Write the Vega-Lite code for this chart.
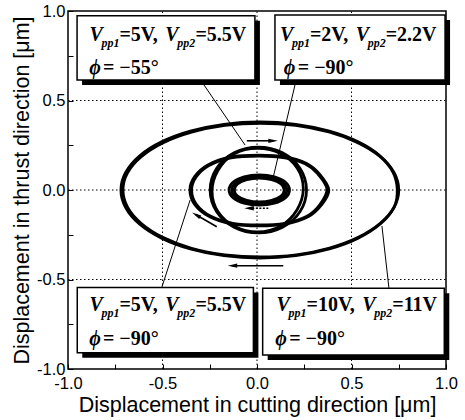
{
  "$schema": "https://vega.github.io/schema/vega-lite/v6.json",
  "width": 378,
  "height": 358,
  "autosize": "none",
  "padding": {"left": 68, "top": 11, "right": 19, "bottom": 51},
  "background": "white",
  "config": {
    "view": {"stroke": "black", "strokeWidth": 1.5},
    "axis": {
      "labelFont": "Liberation Sans", "labelFontSize": 16.5, "labelColor": "black",
      "titleFont": "Liberation Sans", "titleFontSize": 21.5, "titleFontWeight": "normal", "titleColor": "black",
      "tickColor": "black", "tickWidth": 1, "tickSize": -5,
      "domain": false, "grid": false, "labelFlush": false, "labelOverlap": false
    }
  },
  "datasets": {
    "curves": [
      {"trace": "L1", "i": 0, "x": 0.750, "y": 0},
      {"trace": "L1", "i": 1, "x": 0.725, "y": 0.098},
      {"trace": "L1", "i": 2, "x": 0.652, "y": 0.190},
      {"trace": "L1", "i": 3, "x": 0.535, "y": 0.269},
      {"trace": "L1", "i": 4, "x": 0.383, "y": 0.329},
      {"trace": "L1", "i": 5, "x": 0.205, "y": 0.367},
      {"trace": "L1", "i": 6, "x": 0.015, "y": 0.380},
      {"trace": "L1", "i": 7, "x": -0.175, "y": 0.367},
      {"trace": "L1", "i": 8, "x": -0.353, "y": 0.329},
      {"trace": "L1", "i": 9, "x": -0.505, "y": 0.269},
      {"trace": "L1", "i": 10, "x": -0.622, "y": 0.190},
      {"trace": "L1", "i": 11, "x": -0.695, "y": 0.098},
      {"trace": "L1", "i": 12, "x": -0.720, "y": 0},
      {"trace": "L1", "i": 13, "x": -0.695, "y": -0.098},
      {"trace": "L1", "i": 14, "x": -0.622, "y": -0.190},
      {"trace": "L1", "i": 15, "x": -0.505, "y": -0.269},
      {"trace": "L1", "i": 16, "x": -0.353, "y": -0.329},
      {"trace": "L1", "i": 17, "x": -0.175, "y": -0.367},
      {"trace": "L1", "i": 18, "x": 0.015, "y": -0.380},
      {"trace": "L1", "i": 19, "x": 0.205, "y": -0.367},
      {"trace": "L1", "i": 20, "x": 0.383, "y": -0.329},
      {"trace": "L1", "i": 21, "x": 0.535, "y": -0.269},
      {"trace": "L1", "i": 22, "x": 0.652, "y": -0.190},
      {"trace": "L1", "i": 23, "x": 0.725, "y": -0.098},
      {"trace": "L2", "i": 0, "x": 0.742, "y": 0.004},
      {"trace": "L2", "i": 1, "x": 0.719, "y": 0.100},
      {"trace": "L2", "i": 2, "x": 0.647, "y": 0.190},
      {"trace": "L2", "i": 3, "x": 0.530, "y": 0.266},
      {"trace": "L2", "i": 4, "x": 0.380, "y": 0.324},
      {"trace": "L2", "i": 5, "x": 0.204, "y": 0.361},
      {"trace": "L2", "i": 6, "x": 0.018, "y": 0.373},
      {"trace": "L2", "i": 7, "x": -0.170, "y": 0.361},
      {"trace": "L2", "i": 8, "x": -0.346, "y": 0.323},
      {"trace": "L2", "i": 9, "x": -0.496, "y": 0.264},
      {"trace": "L2", "i": 10, "x": -0.612, "y": 0.186},
      {"trace": "L2", "i": 11, "x": -0.685, "y": 0.096},
      {"trace": "L2", "i": 12, "x": -0.709, "y": 0},
      {"trace": "L2", "i": 13, "x": -0.685, "y": -0.096},
      {"trace": "L2", "i": 14, "x": -0.612, "y": -0.187},
      {"trace": "L2", "i": 15, "x": -0.496, "y": -0.266},
      {"trace": "L2", "i": 16, "x": -0.346, "y": -0.326},
      {"trace": "L2", "i": 17, "x": -0.170, "y": -0.362},
      {"trace": "L2", "i": 18, "x": 0.018, "y": -0.374},
      {"trace": "L2", "i": 19, "x": 0.208, "y": -0.362},
      {"trace": "L2", "i": 20, "x": 0.384, "y": -0.324},
      {"trace": "L2", "i": 21, "x": 0.536, "y": -0.264},
      {"trace": "L2", "i": 22, "x": 0.652, "y": -0.186},
      {"trace": "L2", "i": 23, "x": 0.726, "y": -0.094},
      {"trace": "R1", "i": 0, "x": 0.262, "y": 0},
      {"trace": "R1", "i": 1, "x": 0.228, "y": 0.120},
      {"trace": "R1", "i": 2, "x": 0.135, "y": 0.208},
      {"trace": "R1", "i": 3, "x": 0.007, "y": 0.240},
      {"trace": "R1", "i": 4, "x": -0.121, "y": 0.208},
      {"trace": "R1", "i": 5, "x": -0.214, "y": 0.120},
      {"trace": "R1", "i": 6, "x": -0.248, "y": 0},
      {"trace": "R1", "i": 7, "x": -0.214, "y": -0.120},
      {"trace": "R1", "i": 8, "x": -0.121, "y": -0.208},
      {"trace": "R1", "i": 9, "x": 0.007, "y": -0.240},
      {"trace": "R1", "i": 10, "x": 0.135, "y": -0.208},
      {"trace": "R1", "i": 11, "x": 0.228, "y": -0.120},
      {"trace": "R2", "i": 0, "x": 0.245, "y": 0.008},
      {"trace": "R2", "i": 1, "x": 0.213, "y": 0.122},
      {"trace": "R2", "i": 2, "x": 0.124, "y": 0.204},
      {"trace": "R2", "i": 3, "x": 0.002, "y": 0.232},
      {"trace": "R2", "i": 4, "x": -0.120, "y": 0.202},
      {"trace": "R2", "i": 5, "x": -0.206, "y": 0.110},
      {"trace": "R2", "i": 6, "x": -0.238, "y": -0.008},
      {"trace": "R2", "i": 7, "x": -0.206, "y": -0.122},
      {"trace": "R2", "i": 8, "x": -0.118, "y": -0.204},
      {"trace": "R2", "i": 9, "x": 0.004, "y": -0.234},
      {"trace": "R2", "i": 10, "x": 0.124, "y": -0.202},
      {"trace": "R2", "i": 11, "x": 0.212, "y": -0.110},
      {"trace": "H1", "i": 0, "x": 0.380, "y": 0},
      {"trace": "H1", "i": 1, "x": 0.330, "y": 0.090},
      {"trace": "H1", "i": 2, "x": 0.260, "y": 0.150},
      {"trace": "H1", "i": 3, "x": 0.150, "y": 0.185},
      {"trace": "H1", "i": 4, "x": 0.010, "y": 0.195},
      {"trace": "H1", "i": 5, "x": -0.140, "y": 0.185},
      {"trace": "H1", "i": 6, "x": -0.260, "y": 0.140},
      {"trace": "H1", "i": 7, "x": -0.330, "y": 0.075},
      {"trace": "H1", "i": 8, "x": -0.355, "y": 0},
      {"trace": "H1", "i": 9, "x": -0.330, "y": -0.080},
      {"trace": "H1", "i": 10, "x": -0.250, "y": -0.150},
      {"trace": "H1", "i": 11, "x": -0.130, "y": -0.190},
      {"trace": "H1", "i": 12, "x": 0.010, "y": -0.200},
      {"trace": "H1", "i": 13, "x": 0.150, "y": -0.190},
      {"trace": "H1", "i": 14, "x": 0.270, "y": -0.150},
      {"trace": "H1", "i": 15, "x": 0.340, "y": -0.085},
      {"trace": "H2", "i": 0, "x": 0.370, "y": 0.005},
      {"trace": "H2", "i": 1, "x": 0.322, "y": 0.090},
      {"trace": "H2", "i": 2, "x": 0.254, "y": 0.146},
      {"trace": "H2", "i": 3, "x": 0.147, "y": 0.180},
      {"trace": "H2", "i": 4, "x": 0.010, "y": 0.190},
      {"trace": "H2", "i": 5, "x": -0.137, "y": 0.180},
      {"trace": "H2", "i": 6, "x": -0.254, "y": 0.137},
      {"trace": "H2", "i": 7, "x": -0.322, "y": 0.073},
      {"trace": "H2", "i": 8, "x": -0.346, "y": 0},
      {"trace": "H2", "i": 9, "x": -0.322, "y": -0.078},
      {"trace": "H2", "i": 10, "x": -0.244, "y": -0.147},
      {"trace": "H2", "i": 11, "x": -0.127, "y": -0.186},
      {"trace": "H2", "i": 12, "x": 0.010, "y": -0.195},
      {"trace": "H2", "i": 13, "x": 0.147, "y": -0.186},
      {"trace": "H2", "i": 14, "x": 0.264, "y": -0.147},
      {"trace": "H2", "i": 15, "x": 0.332, "y": -0.083},
      {"trace": "S1", "i": 0, "x": 0.172, "y": 0},
      {"trace": "S1", "i": 1, "x": 0.151, "y": 0.043},
      {"trace": "S1", "i": 2, "x": 0.092, "y": 0.074},
      {"trace": "S1", "i": 3, "x": 0.012, "y": 0.085},
      {"trace": "S1", "i": 4, "x": -0.068, "y": 0.074},
      {"trace": "S1", "i": 5, "x": -0.127, "y": 0.043},
      {"trace": "S1", "i": 6, "x": -0.148, "y": 0},
      {"trace": "S1", "i": 7, "x": -0.127, "y": -0.043},
      {"trace": "S1", "i": 8, "x": -0.068, "y": -0.074},
      {"trace": "S1", "i": 9, "x": 0.012, "y": -0.085},
      {"trace": "S1", "i": 10, "x": 0.092, "y": -0.074},
      {"trace": "S1", "i": 11, "x": 0.151, "y": -0.043},
      {"trace": "S2", "i": 0, "x": 0.158, "y": 0},
      {"trace": "S2", "i": 1, "x": 0.139, "y": 0.038},
      {"trace": "S2", "i": 2, "x": 0.085, "y": 0.066},
      {"trace": "S2", "i": 3, "x": 0.012, "y": 0.076},
      {"trace": "S2", "i": 4, "x": -0.061, "y": 0.066},
      {"trace": "S2", "i": 5, "x": -0.115, "y": 0.038},
      {"trace": "S2", "i": 6, "x": -0.134, "y": 0},
      {"trace": "S2", "i": 7, "x": -0.115, "y": -0.038},
      {"trace": "S2", "i": 8, "x": -0.061, "y": -0.066},
      {"trace": "S2", "i": 9, "x": 0.012, "y": -0.076},
      {"trace": "S2", "i": 10, "x": 0.085, "y": -0.066},
      {"trace": "S2", "i": 11, "x": 0.139, "y": -0.038},
      {"trace": "S3", "i": 0, "x": 0.144, "y": 0},
      {"trace": "S3", "i": 1, "x": 0.127, "y": 0.034},
      {"trace": "S3", "i": 2, "x": 0.078, "y": 0.058},
      {"trace": "S3", "i": 3, "x": 0.012, "y": 0.067},
      {"trace": "S3", "i": 4, "x": -0.054, "y": 0.058},
      {"trace": "S3", "i": 5, "x": -0.103, "y": 0.034},
      {"trace": "S3", "i": 6, "x": -0.120, "y": 0},
      {"trace": "S3", "i": 7, "x": -0.103, "y": -0.034},
      {"trace": "S3", "i": 8, "x": -0.054, "y": -0.058},
      {"trace": "S3", "i": 9, "x": 0.012, "y": -0.067},
      {"trace": "S3", "i": 10, "x": 0.078, "y": -0.058},
      {"trace": "S3", "i": 11, "x": 0.127, "y": -0.034}
    ],
    "gridx": [
      {"x": -0.5, "y": -1, "y2": 1},
      {"x": 0, "y": -1, "y2": 1},
      {"x": 0.5, "y": -1, "y2": 1}
    ],
    "gridy": [
      {"y": -0.5, "x": -1, "x2": 1},
      {"y": 0, "x": -1, "x2": 1},
      {"y": 0.5, "x": -1, "x2": 1}
    ],
    "leaders": [
      {"x": -0.291, "y": 0.603, "x2": -0.063, "y2": 0.251},
      {"x": 0.206, "y": 0.609, "x2": 0.085, "y2": 0.067},
      {"x": -0.503, "y": -0.542, "x2": -0.354, "y2": -0.056},
      {"x": 0.698, "y": -0.547, "x2": 0.661, "y2": -0.201}
    ],
    "shafts": [
      {"x": -0.054, "y": 0.275, "x2": 0.085, "y2": 0.275},
      {"x": 0.139, "y": -0.423, "x2": -0.130, "y2": -0.423},
      {"x": -0.213, "y": -0.205, "x2": -0.325, "y2": -0.137}
    ],
    "dshafts": [
      {"x": 0.06, "y": -0.102, "x2": -0.04, "y2": -0.102}
    ],
    "headsRight": [{"x": 0.085, "y": 0.275}],
    "headsLeft": [{"x": -0.130, "y": -0.423}, {"x": -0.042, "y": -0.102}],
    "headsUpLeft": [{"x": -0.322, "y": -0.139}],
    "boxes": [
      {"x": -0.952, "x2": -0.011, "y": 0.973, "y2": 0.615},
      {"x": 0.095, "x2": 0.995, "y": 0.978, "y2": 0.615},
      {"x": -0.951, "x2": -0.019, "y": -0.544, "y2": -0.909},
      {"x": 0.030, "x2": 0.991, "y": -0.549, "y2": -0.922}
    ],
    "vlabels": [
      {"x": -0.886, "y": 0.832, "text": "V"},
      {"x": -0.485, "y": 0.832, "text": "V"},
      {"x": -0.888, "y": 0.648, "text": "ϕ"},
      {"x": 0.122, "y": 0.832, "text": "V"},
      {"x": 0.523, "y": 0.832, "text": "V"},
      {"x": 0.142, "y": 0.648, "text": "ϕ"},
      {"x": -0.886, "y": -0.676, "text": "V"},
      {"x": -0.485, "y": -0.676, "text": "V"},
      {"x": -0.888, "y": -0.866, "text": "ϕ"},
      {"x": 0.103, "y": -0.676, "text": "V"},
      {"x": 0.557, "y": -0.676, "text": "V"},
      {"x": 0.097, "y": -0.866, "text": "ϕ"}
    ],
    "sublabels": [
      {"x": -0.823, "y": 0.799, "text": "pp1"},
      {"x": -0.422, "y": 0.799, "text": "pp2"},
      {"x": 0.185, "y": 0.799, "text": "pp1"},
      {"x": 0.586, "y": 0.799, "text": "pp2"},
      {"x": -0.823, "y": -0.709, "text": "pp1"},
      {"x": -0.422, "y": -0.709, "text": "pp2"},
      {"x": 0.167, "y": -0.709, "text": "pp1"},
      {"x": 0.621, "y": -0.709, "text": "pp2"}
    ],
    "plainlabels": [
      {"x": -0.728, "y": 0.832, "text": "=5V,"},
      {"x": -0.326, "y": 0.832, "text": "=5.5V"},
      {"x": -0.815, "y": 0.648, "text": "= −55°"},
      {"x": 0.280, "y": 0.832, "text": "=2V,"},
      {"x": 0.681, "y": 0.832, "text": "=2.2V"},
      {"x": 0.216, "y": 0.648, "text": "= −90°"},
      {"x": -0.728, "y": -0.676, "text": "=5V,"},
      {"x": -0.326, "y": -0.676, "text": "=5.5V"},
      {"x": -0.815, "y": -0.866, "text": "= −90°"},
      {"x": 0.262, "y": -0.676, "text": "=10V,"},
      {"x": 0.716, "y": -0.676, "text": "=11V"},
      {"x": 0.170, "y": -0.866, "text": "= −90°"}
    ]
  },
  "encoding": {
    "x": {
      "field": "x", "type": "quantitative",
      "scale": {"domain": [-1, 1], "nice": false, "zero": false},
      "axis": {
        "title": "Displacement in cutting direction [μm]",
        "values": [-1, -0.75, -0.5, -0.25, 0, 0.25, 0.5, 0.75, 1],
        "labelExpr": "datum.value % 0.5 == 0 ? replace(format(datum.value, '.1f'), '−', '-') : ''",
        "labelPadding": 11,
        "titlePadding": 3
      }
    },
    "y": {
      "field": "y", "type": "quantitative",
      "scale": {"domain": [-1, 1], "nice": false, "zero": false},
      "axis": {
        "title": "Displacement in thrust direction [μm]",
        "values": [-1, -0.75, -0.5, -0.25, 0, 0.25, 0.5, 0.75, 1],
        "labelExpr": "datum.value % 0.5 == 0 ? replace(format(datum.value, '.1f'), '−', '-') : ''",
        "labelPadding": 8,
        "titleX": -46,
        "titleY": 179,
        "titleAngle": -90,
        "titleAlign": "center",
        "titleBaseline": "middle"
      }
    }
  },
  "layer": [
    {
      "data": {"name": "gridx"},
      "mark": {"type": "rule", "color": "black", "strokeWidth": 1, "strokeDash": [1.5, 2.5]},
      "encoding": {"y2": {"field": "y2"}}
    },
    {
      "data": {"name": "gridy"},
      "mark": {"type": "rule", "color": "black", "strokeWidth": 1, "strokeDash": [1.5, 2.5]},
      "encoding": {"x2": {"field": "x2"}}
    },
    {
      "data": {"name": "curves"},
      "mark": {"type": "line", "interpolate": "cardinal-closed", "color": "black", "strokeWidth": 2.8},
      "encoding": {
        "detail": {"field": "trace", "type": "nominal"},
        "order": {"field": "i", "type": "quantitative"}
      }
    },
    {
      "data": {"name": "leaders"},
      "mark": {"type": "rule", "color": "black", "strokeWidth": 1},
      "encoding": {"x2": {"field": "x2"}, "y2": {"field": "y2"}}
    },
    {
      "data": {"name": "shafts"},
      "mark": {"type": "rule", "color": "black", "strokeWidth": 1.6},
      "encoding": {"x2": {"field": "x2"}, "y2": {"field": "y2"}}
    },
    {
      "data": {"name": "dshafts"},
      "mark": {"type": "rule", "color": "black", "strokeWidth": 1.6, "strokeDash": [2, 1.5]},
      "encoding": {"x2": {"field": "x2"}, "y2": {"field": "y2"}}
    },
    {
      "data": {"name": "headsRight"},
      "mark": {"type": "point", "filled": true, "color": "black", "opacity": 1, "size": 90, "shape": "M1,0L-1,-0.45L-1,0.45Z"},
      "encoding": {}
    },
    {
      "data": {"name": "headsLeft"},
      "mark": {"type": "point", "filled": true, "color": "black", "opacity": 1, "size": 90, "shape": "M-1,0L1,-0.45L1,0.45Z"},
      "encoding": {}
    },
    {
      "data": {"name": "headsUpLeft"},
      "mark": {"type": "point", "filled": true, "color": "black", "opacity": 1, "size": 90, "angle": 210, "shape": "M1,0L-1,-0.45L-1,0.45Z"},
      "encoding": {}
    },
    {
      "data": {"name": "boxes"},
      "mark": {"type": "rect", "color": "black", "xOffset": 5, "x2Offset": 5, "yOffset": 5, "y2Offset": 5},
      "encoding": {"x2": {"field": "x2"}, "y2": {"field": "y2"}}
    },
    {
      "data": {"name": "boxes"},
      "mark": {"type": "rect", "fill": "white", "stroke": "black", "strokeWidth": 1.5},
      "encoding": {"x2": {"field": "x2"}, "y2": {"field": "y2"}}
    },
    {
      "data": {"name": "vlabels"},
      "mark": {"type": "text", "font": "Liberation Serif", "fontSize": 20, "fontWeight": "bold", "fontStyle": "italic", "align": "left", "baseline": "alphabetic", "color": "black"},
      "encoding": {"text": {"field": "text"}}
    },
    {
      "data": {"name": "sublabels"},
      "mark": {"type": "text", "font": "Liberation Serif", "fontSize": 12, "fontWeight": "bold", "fontStyle": "italic", "align": "left", "baseline": "alphabetic", "color": "black"},
      "encoding": {"text": {"field": "text"}}
    },
    {
      "data": {"name": "plainlabels"},
      "mark": {"type": "text", "font": "Liberation Serif", "fontSize": 20, "fontWeight": "bold", "align": "left", "baseline": "alphabetic", "color": "black"},
      "encoding": {"text": {"field": "text"}}
    }
  ]
}
